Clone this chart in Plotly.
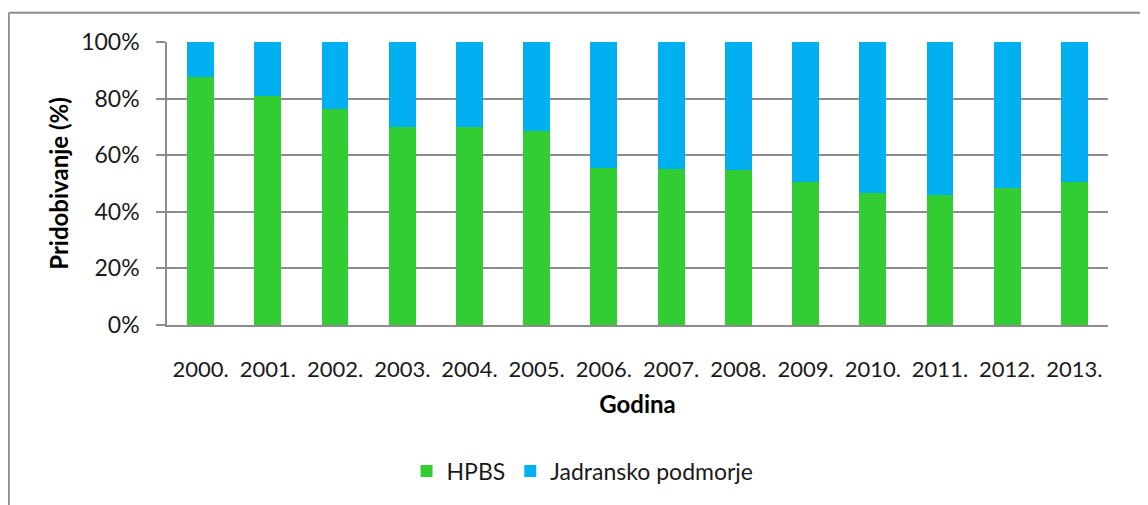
import plotly.graph_objects as go

years = ["2000.", "2001.", "2002.", "2003.", "2004.", "2005.", "2006.",
         "2007.", "2008.", "2009.", "2010.", "2011.", "2012.", "2013."]
hpbs = [87.5, 80.8, 76.4, 70.1, 70.1, 68.5, 55.6, 55.1, 54.6, 50.6, 46.6, 46.1, 48.4, 50.6]
jadran = [round(100 - v, 1) for v in hpbs]

FONT = "Lato"
GRID = "#8c8c8c"
TXT = "#1a1a1a"

fig = go.Figure()
fig.add_trace(go.Bar(x=years, y=hpbs, name="HPBS", marker_color="#32CD32",
                     marker_line_width=0))
fig.add_trace(go.Bar(x=years, y=jadran, name="Jadransko podmorje", marker_color="#00B0F0",
                     marker_line_width=0))

fig.update_layout(
    barmode="stack",
    bargap=0.6,
    width=1148, height=505,
    margin=dict(l=159, r=48, t=34, b=187.6, autoexpand=False),
    paper_bgcolor="white", plot_bgcolor="white",
    font=dict(family=FONT, color=TXT, size=23),
    showlegend=True,
    legend=dict(orientation="h", x=0.4416, xanchor="center", y=-0.516, yanchor="middle",
                font=dict(size=23, family=FONT, color=TXT), itemwidth=30,
                traceorder="normal"),
    xaxis=dict(
        showgrid=False, showline=True, linecolor=GRID, linewidth=1.5,
        ticks="", tickfont=dict(size=22, family=FONT, color=TXT),
        ticklabelstandoff=24,
        title=dict(text="<b>Godina</b>", font=dict(size=24, family=FONT, color="black"),
                   standoff=15),
    ),
    yaxis=dict(
        range=[0, 100], tickvals=[0, 20, 40, 60, 80, 100],
        ticktext=["0%", "20%", "40%", "60%", "80%", "100%"],
        showgrid=True, gridcolor=GRID, gridwidth=1.5,
        showline=True, linecolor=GRID, linewidth=1.5,
        ticks="outside", ticklen=9, tickcolor=GRID, tickwidth=1.5,
        tickfont=dict(size=23, family=FONT, color=TXT),
        ticklabelstandoff=12,
        zeroline=False,
        title=dict(text="<b>Pridobivanje (%)</b>", font=dict(size=24, family=FONT, color="black"),
                   standoff=6),
    ),
)

# chart-area border (top and left edges visible in the reference)
bx = (0.9 - 159) / 941
by = 1 + (42.3 - 13) / 283.4
fig.add_shape(type="line", xref="paper", yref="paper", x0=bx, x1=1.2, y0=by, y1=by,
              line=dict(color=GRID, width=1.8))
fig.add_shape(type="line", xref="paper", yref="paper", x0=bx, x1=bx, y0=by, y1=-1.0,
              line=dict(color=GRID, width=1.8))

fig.write_html("out.html")
